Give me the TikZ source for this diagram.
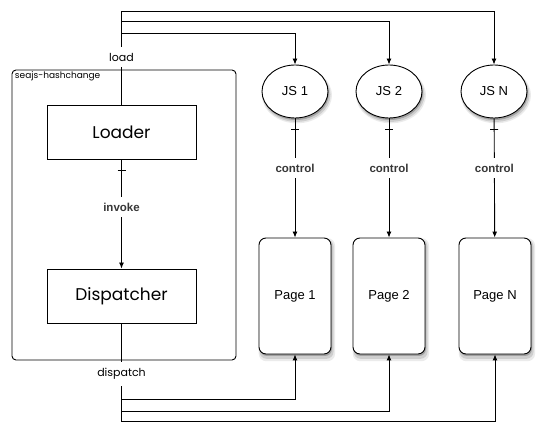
\documentclass[tikz,border=0pt]{standalone}
\usepackage{fontspec}
\setmainfont{Liberation Sans}
\newfontfamily\geo{Poppins}
\usetikzlibrary{shapes.geometric,arrows.meta,shadows,decorations.markings,calc}
\begin{document}
\begin{tikzpicture}[x=1pt,y=-1pt, line width=0.9pt, >={Latex[length=6pt,width=5pt]},
 softshadow/.style={general shadow={shadow xshift=1.8pt, shadow yshift=-3.5pt, fill=black, opacity=0.08, shadow scale=1.06},
                    general shadow={shadow xshift=1.5pt, shadow yshift=-3pt, fill=black, opacity=0.12, shadow scale=1.03},
                    general shadow={shadow xshift=1pt, shadow yshift=-2pt, fill=black, opacity=0.22}},
 box/.style={draw, minimum width=149pt, minimum height=54pt, inner sep=0pt, font=\geo\fontsize{17}{20}\selectfont},
 jsnode/.style={ellipse, draw, fill=white, minimum width=66pt, minimum height=53pt, inner sep=0pt, font=\fontsize{13}{15}\selectfont, softshadow},
 page/.style={rectangle, rounded corners=7pt, draw, fill=white, minimum width=72pt, minimum height=116pt, inner sep=0pt, font=\fontsize{13}{15}\selectfont, softshadow},
 blbl/.style={fill=white, inner xsep=1pt, inner ysep=6pt, font=\bfseries\fontsize{11.5}{13}\selectfont, text=black!78},
 glbl/.style={fill=white, inner xsep=1pt, inner ysep=6pt, font=\geo\fontsize{11}{13}\selectfont},
 tickmark/.style={postaction={decorate, decoration={markings, mark=at position #1 with {\draw[-, line width=0.8pt] (0,-4pt) -- (0,4pt);}}}}
]
\useasboundingbox (0,0) rectangle (550,433);
% container
\node[draw, rounded corners=4pt, minimum width=224pt, minimum height=290pt, inner sep=0pt] (frame) at (124,215) {};
\node[anchor=north west, font=\geo\fontsize{9}{10}\selectfont, inner sep=1pt] (title) at ($(frame.north west)+(2,1)$) {seajs-hashchange};
% main boxes
\node[box] (loader) at (121.5,132) {Loader};
\node[box] (disp) at (121.5,296) {Dispatcher};
% JS ellipses
\node[jsnode] (js1) at (295,91.5) {JS 1};
\node[jsnode] (js2) at (389,91.5) {JS 2};
\node[jsnode] (jsN) at (494,91.5) {JS N};
% pages
\node[page] (p1) at (295,296) {Page 1};
\node[page] (p2) at (389,296) {Page 2};
\node[page] (pN) at (495,296) {Page N};
% load lines
\draw[->] (loader.north) -- ++(0,-93) -| (jsN.north);
\draw[->] (loader.north) -- ++(0,-83) -| (js2.north);
\draw[->] (loader.north) -- ++(0,-71) -| (js1.north);
% dispatch lines
\draw[->] (disp.south) -- ++(0,76) -| (p1.south);
\draw[->] (disp.south) -- ++(0,88) -| (p2.south);
\draw[->] (disp.south) -- ++(0,98) -| (pN.south);
% invoke
\draw[->, tickmark=11pt] (loader) -- node[blbl, pos=0.436] (invlbl) {invoke} (disp);
% control
\draw[->, tickmark=11pt] (js1) -- node[blbl, pos=0.417] (c1) {control} (p1);
\draw[->, tickmark=11pt] (js2) -- node[blbl, pos=0.417] (c2) {control} (p2);
\draw[->, tickmark=11pt] (jsN) -- node[blbl, pos=0.417] (cN) {control} (pN);
% labels
\node[glbl] (loadlbl) at (121.5,57) {load};
\node[glbl] (displbl) at (121.5,374) {dispatch};
\end{tikzpicture}
\end{document}
